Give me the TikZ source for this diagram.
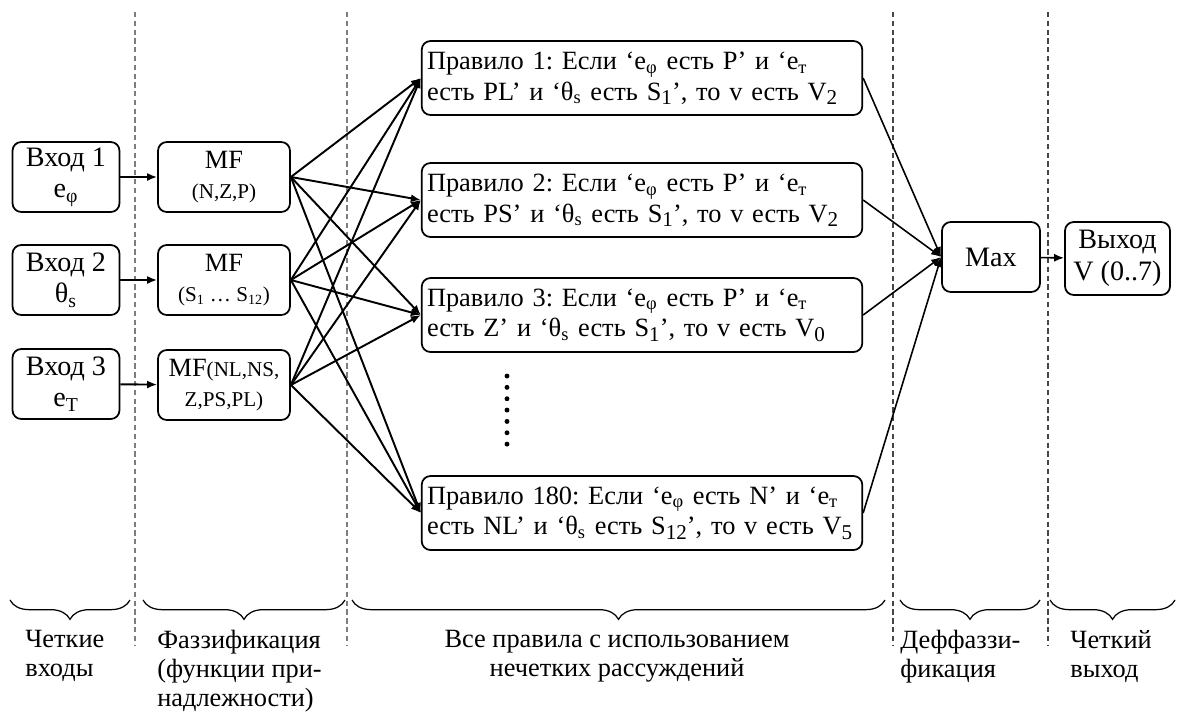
\documentclass[tikz,border=0pt]{standalone}
\usepackage{fontspec}
\setmainfont{Liberation Serif}
\usetikzlibrary{positioning, arrows.meta, decorations.pathreplacing}
\definecolor{mygray}{RGB}{125,125,125}
\definecolor{mydark}{RGB}{70,70,70}
\newcommand{\mfsmall}{\fontsize{12}{14}\selectfont}
\newcommand{\idx}[1]{\raisebox{-0.35ex}{\fontsize{12}{12}\selectfont #1}}
\frenchspacing
\tikzset{
  block/.style={draw, rounded corners=5pt, line width=1pt, align=center,
    inner sep=2pt, minimum height=1.4cm, font=\fontsize{16}{18}\selectfont},
  inbox/.style={block, minimum width=2.14cm},
  mfbox/.style={block, minimum width=2.64cm, font=\fontsize{15}{17}\selectfont},
  rulebox/.style={block, minimum height=1.48cm, text width=8.6cm,
    inner xsep=3pt, align=left, font=\fontsize{15}{17.5}\selectfont},
  link/.style={-{Latex[length=2mm,width=1.6mm]}, line width=1.1pt},
  sep/.style={mygray, dash pattern=on 3pt off 2pt, line width=1pt},
  bracet/.style={decorate, decoration={brace,mirror,amplitude=11pt},
    line width=0.7pt},
  caption/.style={align=left, anchor=north west, inner sep=0,
    font=\fontsize{15}{16.5}\selectfont}
}

\begin{document}
\begin{tikzpicture}

\useasboundingbox (0,0) rectangle (23.62,-14.34);

% separators
\draw[sep] (2.70,-0.24) -- (2.70,-12.9);
\draw[sep] (6.94,-0.24) -- (6.94,-12.9);
\draw[sep, mydark] (17.86,-0.24) -- (17.86,-12.9);
\draw[sep, mydark] (20.96,-0.24) -- (20.96,-12.9);

% inputs
\node [inbox] (in1) at (1.32,-3.54) {Вход 1\\e\textsubscript{φ}};
\node [inbox] (in2) at (1.32,-5.60) {Вход 2\\θ\textsubscript{s}};
\node [inbox] (in3) at (1.32,-7.68) {Вход 3\\e\textsubscript{T}};

% membership functions
\node [mfbox] (mf1) at (4.48,-3.54) {MF\\{\mfsmall(N,Z,P)}};
\node [mfbox] (mf2) at (4.48,-5.60) {MF\\{\mfsmall(S\textsubscript{1} … S\textsubscript{12})}};
\node [mfbox] (mf3) at (4.48,-7.70) {MF{\mfsmall(NL,NS,}\\{\mfsmall Z,PS,PL)}};

% rules
\node [rulebox] (r1) at (12.84,-1.56)
  {Правило 1: Если ‘e\textsubscript{φ} есть P’ и ‘e\textsubscript{т}\\есть PL’ и ‘θ\textsubscript{s} есть S\idx{1}’, то v есть V\idx{2}};
\node [rulebox] (r2) at (12.84,-4.00)
  {Правило 2: Если ‘e\textsubscript{φ} есть P’ и ‘e\textsubscript{т}\\есть PS’ и ‘θ\textsubscript{s} есть S\idx{1}’, то v есть V\idx{2}};
\node [rulebox] (r3) at (12.84,-6.30)
  {Правило 3: Если ‘e\textsubscript{φ} есть P’ и ‘e\textsubscript{т}\\есть Z’ и ‘θ\textsubscript{s} есть S\idx{1}’, то v есть V\idx{0}};
\node [rulebox] (r180) at (12.84,-10.26)
  {Правило 180: Если ‘e\textsubscript{φ} есть N’ и ‘e\textsubscript{т}\\есть NL’ и ‘θ\textsubscript{s} есть S\idx{12}’, то v есть V\idx{5}};

\foreach \i in {0,...,6}
  \fill (10.14,-7.52-\i*0.227) circle (1.4pt);

% defuzzification and output
\node [block, minimum width=1.96cm] (max) at (19.82,-5.14) {Max};
\node [block, minimum width=2.10cm, minimum height=1.46cm] (out) at (22.35,-5.17) {Выход\\V (0..7)};

% connectors
\draw[link] (in1) -- (mf1);
\draw[link] (in2) -- (mf2);
\draw[link] (in3) -- (mf3);
\foreach \m in {mf1,mf2,mf3}
  \foreach \r in {r1,r2,r3,r180}
    \draw[link] (\m.east) -- (\r.west);
\foreach \r in {r1,r2,r3,r180}
  \draw[link, line width=0.9pt] (\r.east) -- (max.west);
\draw[link, line width=0.9pt] (max) -- (out);

% braces
\draw[bracet] (0.20,-12.0) -- (2.60,-12.0);
\draw[bracet] (2.86,-12.0) -- (6.90,-12.0);
\draw[bracet] (7.04,-12.0) -- (17.70,-12.0);
\draw[bracet] (18.00,-12.0) -- (20.80,-12.0);
\draw[bracet] (21.00,-12.0) -- (23.50,-12.0);

\node [caption] (c1) at (0.50,-12.60) {Четкие\\входы};
\node [caption] (c2) at (3.14,-12.60) {Фаззификация\\(функции при-\\надлежности)};
\node [caption, align=center, anchor=north] (c3) at (12.34,-12.60)
  {Все правила с использованием\\нечетких рассуждений};
\node [caption] (c4) at (18.00,-12.60) {Деффаззи-\\фикация};
\node [caption] (c5) at (21.40,-12.60) {Четкий\\выход};

\end{tikzpicture}
\end{document}
